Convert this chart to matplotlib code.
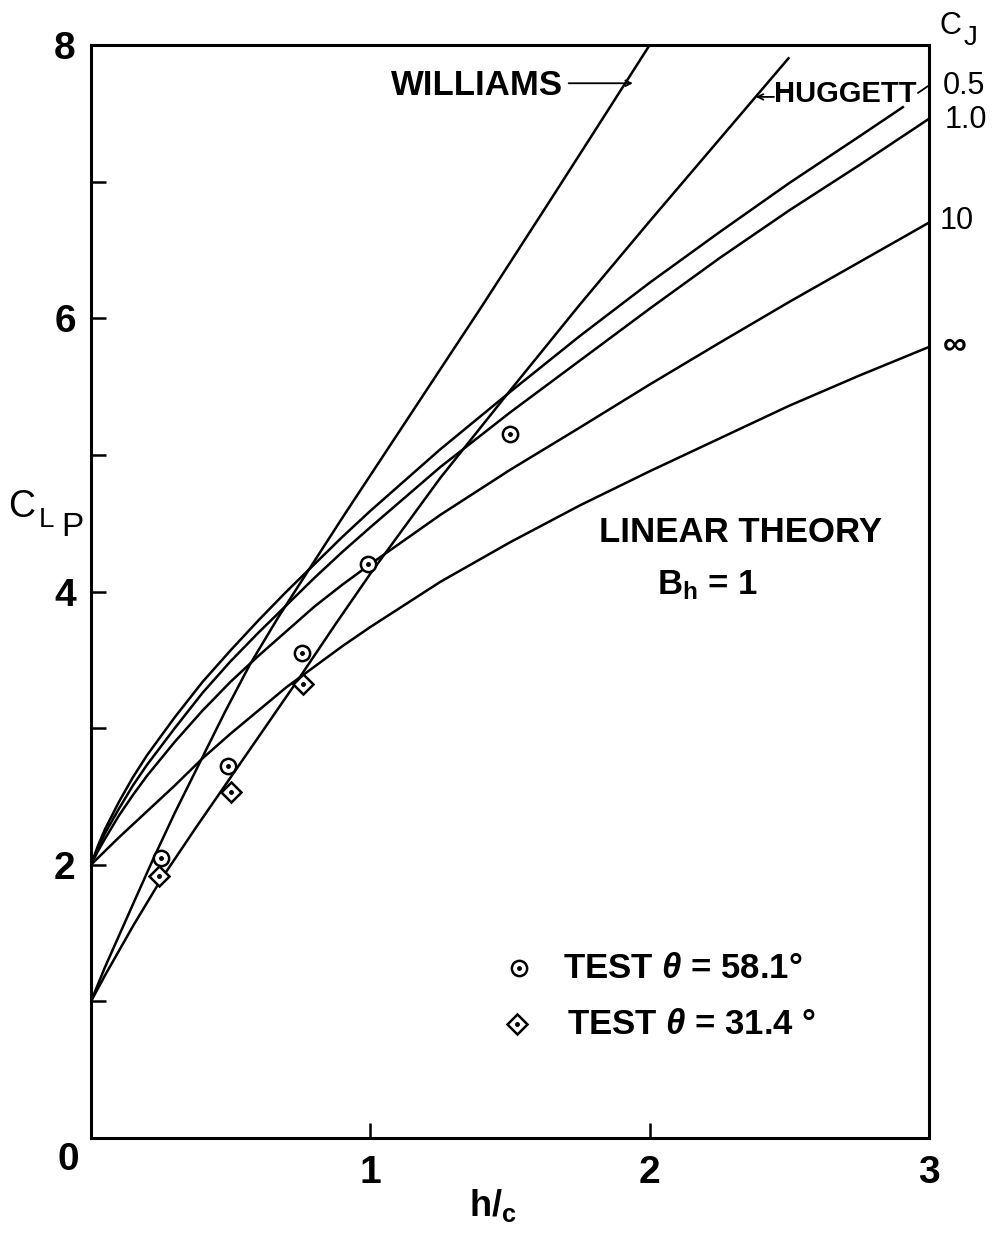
import matplotlib
matplotlib.use('Agg')
import matplotlib.pyplot as plt

plt.rcParams['font.family'] = ['Liberation Sans', 'DejaVu Sans']
plt.rcParams['mathtext.fontset'] = 'custom'
plt.rcParams['mathtext.rm'] = 'Liberation Sans:bold'
plt.rcParams['mathtext.it'] = 'Liberation Sans:italic:bold'
plt.rcParams['mathtext.bf'] = 'Liberation Sans:bold'

# h/c values and CLp read for each theory curve
williams_x = [0, 0.05, 0.1, 0.15, 0.22, 0.3, 0.39, 0.48, 0.57, 0.67, 0.78,
              0.9, 1.0, 1.2, 1.4, 1.64, 1.8, 2.0]
williams_y = [1.0, 1.25, 1.48, 1.71, 2.03, 2.38, 2.75, 3.12, 3.47, 3.81, 4.16,
              4.54, 4.85, 5.47, 6.09, 6.85, 7.36, 8.0]

huggett_x = [0, 0.05, 0.1, 0.15, 0.25, 0.375, 0.5, 0.625, 0.75, 0.875, 1.0,
             1.25, 1.5, 1.75, 2.0, 2.25, 2.5]
huggett_y = [1.0, 1.19, 1.37, 1.55, 1.89, 2.27, 2.64, 3.01, 3.38, 3.76, 4.13,
             4.83, 5.47, 6.10, 6.71, 7.31, 7.91]

cj05_x = [0, 0.025, 0.05, 0.1, 0.15, 0.2, 0.3, 0.4, 0.5, 0.6, 0.7, 0.8, 0.9,
          1.0, 1.25, 1.5, 1.75, 2.0, 2.25, 2.5, 2.75, 2.91]
cj05_y = [2.0, 2.14, 2.26, 2.46, 2.64, 2.80, 3.08, 3.34, 3.57, 3.79, 4.00, 4.20,
          4.40, 4.59, 5.04, 5.46, 5.87, 6.26, 6.63, 6.99, 7.33, 7.55]

cj1_x = [0, 0.025, 0.05, 0.1, 0.15, 0.2, 0.3, 0.4, 0.5, 0.6, 0.7, 0.8, 0.9,
         1.0, 1.25, 1.5, 1.75, 2.0, 2.25, 2.5, 2.75, 3.0]
cj1_y = [2.0, 2.12, 2.23, 2.41, 2.58, 2.73, 3.00, 3.26, 3.49, 3.70, 3.90, 4.10,
         4.29, 4.47, 4.91, 5.31, 5.69, 6.07, 6.44, 6.79, 7.12, 7.46]

cj10_x = [0, 0.025, 0.05, 0.1, 0.15, 0.2, 0.3, 0.4, 0.5, 0.6, 0.7, 0.8, 0.9,
          1.0, 1.25, 1.5, 1.75, 2.0, 2.25, 2.5, 2.75, 3.0]
cj10_y = [2.0, 2.10, 2.19, 2.36, 2.51, 2.65, 2.90, 3.13, 3.34, 3.53, 3.71, 3.89,
          4.05, 4.20, 4.56, 4.89, 5.20, 5.515, 5.82, 6.12, 6.41, 6.70]

cjinf_x = [0, 0.1, 0.2, 0.3, 0.4, 0.5, 0.6, 0.7, 0.8, 0.9, 1.0, 1.25, 1.5,
           1.75, 2.0, 2.25, 2.5, 2.75, 3.0]
cjinf_y = [2.0, 2.20, 2.39, 2.58, 2.78, 2.96, 3.13, 3.30, 3.45, 3.60, 3.74,
           4.07, 4.36, 4.63, 4.88, 5.12, 5.36, 5.58, 5.79]

# test points
test58_x = [0.25, 0.49, 0.755, 0.99, 1.5]
test58_y = [2.05, 2.72, 3.55, 4.20, 5.15]
test31_x = [0.245, 0.50, 0.76]
test31_y = [1.92, 2.53, 3.32]

fig = plt.figure(figsize=(9.95, 12.33), dpi=100)
ax = fig.add_axes([91 / 995, 95 / 1233, 838 / 995, 1093 / 1233])

lw = 1.8
for xs, ys in [(williams_x, williams_y), (huggett_x, huggett_y),
               (cj05_x, cj05_y), (cj1_x, cj1_y),
               (cj10_x, cj10_y), (cjinf_x, cjinf_y)]:
    ax.plot(xs, ys, color='black', lw=lw, solid_capstyle='butt',
            solid_joinstyle='round')

# circles with a centre dot, diamonds with a centre dot
ax.plot(test58_x, test58_y, 'o', ms=11, mfc='white', mec='black', mew=1.8, zorder=5)
ax.plot(test58_x, test58_y, 'o', ms=2.5, color='black', zorder=6)
ax.plot(test31_x, test31_y, 'D', ms=10, mfc='white', mec='black', mew=1.8, zorder=5)
ax.plot(test31_x, test31_y, 'o', ms=2.5, color='black', zorder=6)

ax.set_xlim(0, 3)
ax.set_ylim(0, 8)
for s in ax.spines.values():
    s.set_linewidth(2.2)

ax.set_xticks([0, 1, 2, 3])
ax.set_xticklabels(['', '1', '2', '3'])
ax.set_yticks(range(9))
ax.set_yticklabels(['', '', '2', '', '4', '', '6', '', '8'])
ax.tick_params(direction='in', length=11, width=1.8, labelsize=28)
ax.tick_params(axis='x', pad=12)
ax.tick_params(axis='y', pad=11)
for lab in ax.get_xticklabels() + ax.get_yticklabels():
    lab.set_fontweight('bold')

fig.text(68 / 995, 1 - 1160 / 1233, '0', fontsize=28, fontweight='bold',
         ha='center', va='center')

# axis titles
fig.text(22 / 995, 1 - 507 / 1233, 'C', fontsize=27, ha='center', va='center')
fig.text(46 / 995, 1 - 520 / 1233, 'L', fontsize=20, ha='center', va='center')
fig.text(72 / 995, 1 - 528 / 1233, 'P', fontsize=24, ha='center', va='center')
fig.text(493 / 995, 1 - 1205 / 1233, r'$\mathregular{h/_{c}}$', fontsize=26,
         fontweight='bold', ha='center', va='center')

# curve names
ax.text(1.382, 7.70, 'WILLIAMS', fontsize=25, fontweight='bold',
        ha='center', va='center')
ax.annotate('', xy=(1.94, 7.72), xytext=(1.71, 7.72),
            arrowprops=dict(arrowstyle='->', lw=1.3, color='black',
                            shrinkA=0, shrinkB=0))
ax.text(2.70, 7.64, 'HUGGETT', fontsize=21, fontweight='bold',
        ha='center', va='center')
ax.annotate('', xy=(2.38, 7.62), xytext=(2.445, 7.62),
            arrowprops=dict(arrowstyle='->', lw=1.3, color='black',
                            shrinkA=0, shrinkB=0))
ax.plot([2.961, 2.997], [7.65, 7.70], color='black', lw=1.3)

# C_J values at the right edge
ax.text(3.078, 8.14, 'C', fontsize=22, ha='center', va='center', clip_on=False)
ax.text(3.150, 8.05, 'J', fontsize=20, ha='center', va='center', clip_on=False)
ax.text(3.126, 7.70, '0.5', fontsize=22, ha='center', va='center', clip_on=False)
ax.text(3.133, 7.45, '1.0', fontsize=22, ha='center', va='center', clip_on=False)
ax.text(3.100, 6.71, '10', fontsize=22, ha='center', va='center', clip_on=False)
ax.text(3.093, 5.81, '∞', fontsize=24, fontweight='bold', ha='center',
        va='center', clip_on=False)

ax.text(2.324, 4.43, 'LINEAR THEORY', fontsize=25, fontweight='bold',
        ha='center', va='center')
ax.text(2.209, 4.05, r'$\mathregular{B_h}$ = 1', fontsize=25, fontweight='bold',
        ha='center', va='center')

# key for the test points
ax.plot([0.511], [0.1555], 'o', ms=11, mfc='white', mec='black', mew=1.8,
        transform=ax.transAxes)
ax.plot([0.511], [0.1555], 'o', ms=2.5, color='black', transform=ax.transAxes)
ax.text(0.563, 0.1555, r'TEST $\theta$ = 58.1°', fontsize=25, fontweight='bold',
        ha='left', va='center', transform=ax.transAxes)
ax.plot([0.508], [0.104], 'D', ms=10, mfc='white', mec='black', mew=1.8,
        transform=ax.transAxes)
ax.plot([0.508], [0.104], 'o', ms=2.5, color='black', transform=ax.transAxes)
ax.text(0.568, 0.104, r'TEST $\theta$ = 31.4 °', fontsize=25, fontweight='bold',
        ha='left', va='center', transform=ax.transAxes)

fig.savefig('out.png', dpi=100)
